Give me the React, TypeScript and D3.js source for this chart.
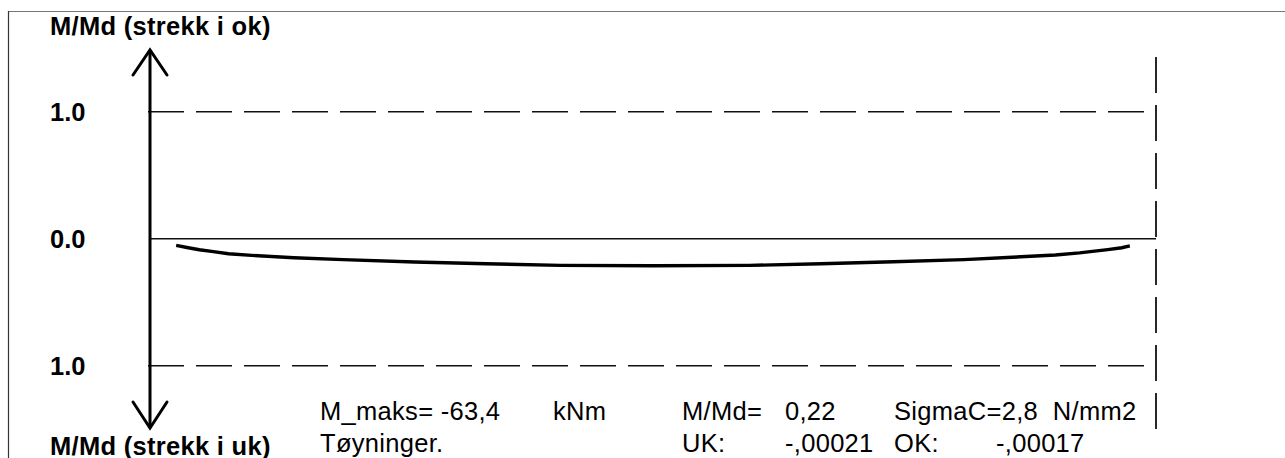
import React from "react";
import * as d3 from "d3";

// Position along the span (% of frame width) and M/Md (positive = strekk i uk, drawn downward)
const spanPct = [2.6, 3.8, 4.9, 6.3, 7.8, 10.1, 14.3, 19.2, 26.3, 33.4, 40.8, 50, 59.6, 66.7, 73.9, 80.9, 85.7, 90.0, 92.4, 93.9, 95.2, 96.6, 97.4];
const mRatio = [0.053, 0.071, 0.087, 0.102, 0.118, 0.131, 0.150, 0.165, 0.184, 0.197, 0.210, 0.213, 0.210, 0.197, 0.181, 0.165, 0.146, 0.128, 0.112, 0.098, 0.086, 0.071, 0.057];

const yTickValues = [-1, 0, 1];
const yTickLabels = ["1.0", "0.0", "1.0"];
const topTitle = "M/Md (strekk i ok)";
const bottomTitle = "M/Md (strekk i uk)";

const infoLine1 = ["M_maks= -63,4", "kNm", "M/Md=", "0,22", "SigmaC=2,8\u00a0\u00a0N/mm2"];
const infoLine2 = ["Tøyninger.", "", "UK:", "-,00021", "OK:", "-,00017"];

export default function App() {
  const W = 1285;
  const H = 458;
  const x0 = 150;
  const x1 = 1156;
  const x = d3.scaleLinear().domain([0, 100]).range([x0, x1]);
  const y = d3.scaleLinear().domain([-1, 1]).range([111.7, 365.7]);

  const pts = spanPct.map((p, i) => [p, mRatio[i]] as [number, number]);
  const line = d3
    .line<[number, number]>()
    .x((d) => x(d[0]))
    .y((d) => y(d[1]));

  const font = "'Liberation Sans', Arial, sans-serif";
  const fs = 25.5;
  const ls = 0.3;
  const col1X = [320, 553, 682, 785, 894];
  const col2X = [320, 0, 682, 785, 894, 996];

  const axisTop = 50;
  const axisBottom = 428;

  return (
    <svg
      width={W}
      height={H}
      style={{ position: "absolute", left: 0, top: 0, background: "#fff" }}
      fontFamily={font}
    >
      <rect x={0} y={0} width={W} height={H} fill="#fff" />
      {/* panel frame */}
      <line x1={8} y1={11.5} x2={W} y2={11.5} stroke="#777" strokeWidth={1.2} />
      <line x1={8.5} y1={11} x2={8.5} y2={H} stroke="#333" strokeWidth={1.2} />

      {/* dashed limit lines */}
      {yTickValues
        .filter((v) => v !== 0)
        .map((v, i) => (
          <line
            key={i}
            x1={148}
            x2={x1}
            y1={y(v)}
            y2={y(v)}
            stroke="#111"
            strokeWidth={1.6}
            strokeDasharray="36 12"
          />
        ))}
      {/* zero line */}
      <line x1={x0} x2={x1} y1={y(0)} y2={y(0)} stroke="#111" strokeWidth={1.5} />
      {/* right dashed vertical */}
      <line
        x1={x1}
        x2={x1}
        y1={57}
        y2={436}
        stroke="#111"
        strokeWidth={1.8}
        strokeDasharray="36 12"
      />

      {/* vertical axis with arrows */}
      <line x1={x0} x2={x0} y1={axisTop} y2={axisBottom} stroke="#000" strokeWidth={3} />
      <polyline
        points={`${x0 - 17},${axisTop + 25} ${x0},${axisTop} ${x0 + 17},${axisTop + 25}`}
        fill="none"
        stroke="#000"
        strokeWidth={3}
        strokeLinecap="round"
      />
      <polyline
        points={`${x0 - 17},${axisBottom - 26} ${x0},${axisBottom} ${x0 + 17},${axisBottom - 26}`}
        fill="none"
        stroke="#000"
        strokeWidth={3}
        strokeLinecap="round"
      />

      {/* curve */}
      <path d={line(pts) || ""} fill="none" stroke="#000" strokeWidth={3.4} />

      {/* tick labels */}
      {yTickValues.map((v, i) => (
        <text
          key={i}
          x={50}
          y={y(v)}
          dy="0.36em"
          fontSize={fs}
          fontWeight="bold"
          fill="#000"
        >
          {yTickLabels[i]}
        </text>
      ))}
      <text x={50} y={35} fontSize={fs} fontWeight="bold" letterSpacing={ls} fill="#000">
        {topTitle}
      </text>
      <text x={50} y={455} fontSize={fs} fontWeight="bold" letterSpacing={ls} fill="#000">
        {bottomTitle}
      </text>

      {infoLine1.map((t, i) => (
        <text key={"a" + i} x={col1X[i]} y={420} fontSize={fs} letterSpacing={ls} fill="#000">
          {t}
        </text>
      ))}
      {infoLine2.map((t, i) =>
        t ? (
          <text key={"b" + i} x={col2X[i]} y={452} fontSize={fs} letterSpacing={ls} fill="#000">
            {t}
          </text>
        ) : null
      )}
    </svg>
  );
}
